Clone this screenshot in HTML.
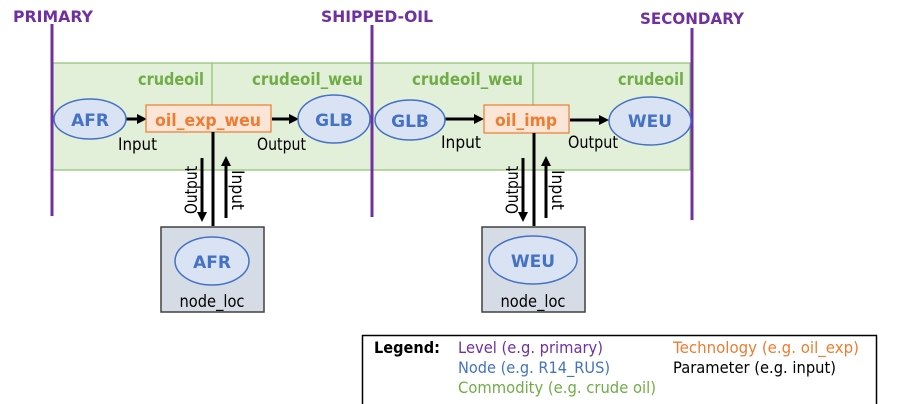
<!DOCTYPE html>
<html><head><meta charset="utf-8"><style>
html,body{margin:0;padding:0;background:#fff;}
svg{display:block;}
text{font-family:"DejaVu Sans","Liberation Sans",sans-serif;}
.b{font-weight:bold;}
</style></head><body>
<svg width="899" height="404" viewBox="0 0 899 404" xmlns="http://www.w3.org/2000/svg">
<defs>
<marker id="ah" markerWidth="10" markerHeight="10" refX="7" refY="5" orient="auto" markerUnits="userSpaceOnUse"><path d="M0,0 L10,5 L0,10 z" fill="#000"/></marker>
</defs>
<rect x="53" y="63" width="637" height="107" fill="#e2efd9" stroke="#8cc36a" stroke-width="1.2"/>
<line x1="212" y1="63" x2="212" y2="105" stroke="#8cc36a" stroke-width="1.2"/>
<line x1="533" y1="63" x2="533" y2="105" stroke="#8cc36a" stroke-width="1.2"/>
<line x1="52" y1="24" x2="52" y2="216" stroke="#7030a0" stroke-width="3"/>
<line x1="372" y1="25" x2="372" y2="217" stroke="#7030a0" stroke-width="3"/>
<line x1="692" y1="28" x2="692" y2="220" stroke="#7030a0" stroke-width="3"/>
<text x="13" y="22" class="b" font-size="16" fill="#7030a0" textLength="80" lengthAdjust="spacingAndGlyphs">PRIMARY</text>
<text x="321" y="22" class="b" font-size="16" fill="#7030a0" textLength="112" lengthAdjust="spacingAndGlyphs">SHIPPED-OIL</text>
<text x="640" y="24" class="b" font-size="16" fill="#7030a0" textLength="104" lengthAdjust="spacingAndGlyphs">SECONDARY</text>
<g class="b" font-size="17" fill="#70ad47">
<text x="138" y="85" textLength="66" lengthAdjust="spacingAndGlyphs">crudeoil</text>
<text x="252" y="85" textLength="111" lengthAdjust="spacingAndGlyphs">crudeoil_weu</text>
<text x="412" y="85" textLength="111" lengthAdjust="spacingAndGlyphs">crudeoil_weu</text>
<text x="618" y="85" textLength="66" lengthAdjust="spacingAndGlyphs">crudeoil</text>
</g>
<g stroke="#000" stroke-width="3">
<line x1="125" y1="119" x2="144" y2="119" marker-end="url(#ah)"/>
<line x1="272" y1="119" x2="296" y2="119" marker-end="url(#ah)"/>
<line x1="445" y1="119" x2="481" y2="119" marker-end="url(#ah)"/>
<line x1="570" y1="120" x2="606" y2="120" marker-end="url(#ah)"/>
</g>
<g fill="#dae3f3" stroke="#4472c4" stroke-width="1.5">
<ellipse cx="90" cy="119" rx="36" ry="20"/>
<ellipse cx="334" cy="119" rx="36" ry="24"/>
<ellipse cx="410" cy="120" rx="35" ry="20"/>
<ellipse cx="650" cy="121" rx="41" ry="24"/>
</g>
<g class="b" font-size="17" fill="#4472c4" text-anchor="middle">
<text x="90" y="126">AFR</text>
<text x="334" y="126">GLB</text>
<text x="410" y="127">GLB</text>
<text x="650" y="127">WEU</text>
</g>
<rect x="146" y="105" width="125" height="27" fill="#fbe5d6" stroke="#ed7d31" stroke-width="1.2"/>
<rect x="484" y="105" width="85" height="28" fill="#fbe5d6" stroke="#ed7d31" stroke-width="1.2"/>
<text x="208" y="126" class="b" font-size="17" fill="#ed7d31" text-anchor="middle" textLength="106" lengthAdjust="spacingAndGlyphs">oil_exp_weu</text>
<text x="526" y="126" class="b" font-size="17" fill="#ed7d31" text-anchor="middle" textLength="62" lengthAdjust="spacingAndGlyphs">oil_imp</text>
<g font-size="17" fill="#000">
<text x="118" y="150" textLength="39" lengthAdjust="spacingAndGlyphs">Input</text>
<text x="257" y="150" textLength="49" lengthAdjust="spacingAndGlyphs">Output</text>
<text x="441" y="148" textLength="40" lengthAdjust="spacingAndGlyphs">Input</text>
<text x="568" y="148" textLength="50" lengthAdjust="spacingAndGlyphs">Output</text>
</g>
<g stroke="#000" stroke-width="3">
<line x1="213" y1="132" x2="213" y2="226"/>
<line x1="202" y1="158" x2="202" y2="219" marker-end="url(#ah)"/>
<line x1="226" y1="218" x2="226" y2="159" marker-end="url(#ah)"/>
<line x1="534" y1="133" x2="534" y2="226"/>
<line x1="523" y1="158" x2="523" y2="219" marker-end="url(#ah)"/>
<line x1="546" y1="218" x2="546" y2="159" marker-end="url(#ah)"/>
</g>
<g font-size="17" fill="#000">
<text transform="translate(197,214) rotate(-90)" textLength="48" lengthAdjust="spacingAndGlyphs">Output</text>
<text transform="translate(232,170) rotate(90)" textLength="40" lengthAdjust="spacingAndGlyphs">Input</text>
<text transform="translate(518,214) rotate(-90)" textLength="48" lengthAdjust="spacingAndGlyphs">Output</text>
<text transform="translate(552,170) rotate(90)" textLength="40" lengthAdjust="spacingAndGlyphs">Input</text>
</g>
<rect x="161" y="227" width="103" height="85" fill="#d6dce5" stroke="#404040" stroke-width="1.5"/>
<rect x="482" y="227" width="103" height="85" fill="#d6dce5" stroke="#404040" stroke-width="1.5"/>
<ellipse cx="212" cy="261" rx="37" ry="24" fill="#dae3f3" stroke="#4472c4" stroke-width="1.5"/>
<ellipse cx="533" cy="260" rx="44" ry="24" fill="#dae3f3" stroke="#4472c4" stroke-width="1.5"/>
<text x="212" y="268" class="b" font-size="17" fill="#4472c4" text-anchor="middle">AFR</text>
<text x="533" y="267" class="b" font-size="17" fill="#4472c4" text-anchor="middle">WEU</text>
<text x="212" y="307" font-size="17" fill="#000" text-anchor="middle" textLength="65" lengthAdjust="spacingAndGlyphs">node_loc</text>
<text x="533" y="307" font-size="17" fill="#000" text-anchor="middle" textLength="65" lengthAdjust="spacingAndGlyphs">node_loc</text>
<rect x="362.5" y="335.5" width="514" height="80" fill="#fff" stroke="#000" stroke-width="1.5"/>
<text x="374" y="353" class="b" font-size="16" fill="#000" textLength="66" lengthAdjust="spacingAndGlyphs">Legend:</text>
<g font-size="16">
<text x="458" y="353" fill="#7030a0" textLength="145" lengthAdjust="spacingAndGlyphs">Level (e.g. primary)</text>
<text x="458" y="373" fill="#4472c4" textLength="152" lengthAdjust="spacingAndGlyphs">Node (e.g. R14_RUS)</text>
<text x="458" y="393" fill="#70ad47" textLength="198" lengthAdjust="spacingAndGlyphs">Commodity (e.g. crude oil)</text>
<text x="673" y="353" fill="#ed7d31" textLength="186" lengthAdjust="spacingAndGlyphs">Technology (e.g. oil_exp)</text>
<text x="673" y="373" fill="#000" textLength="163" lengthAdjust="spacingAndGlyphs">Parameter (e.g. input)</text>
</g>
</svg>
</body></html>
